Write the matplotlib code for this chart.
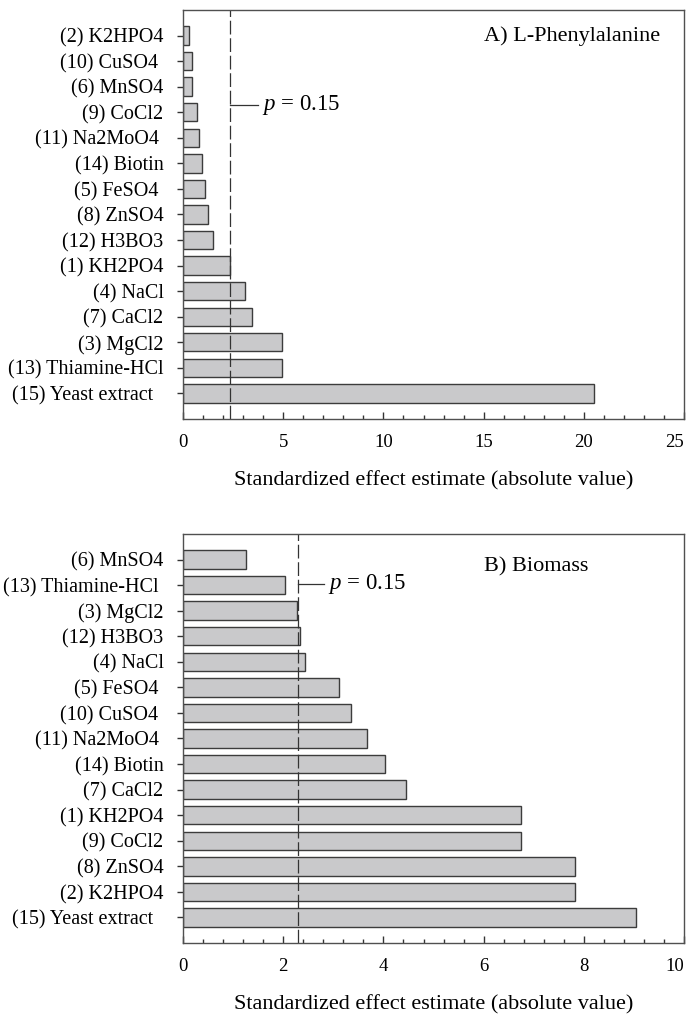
import matplotlib
matplotlib.use('Agg')
import numpy as np
import matplotlib.pyplot as plt
from matplotlib.ticker import MultipleLocator
from matplotlib.transforms import blended_transform_factory

plt.rcParams['font.family'] = ['Liberation Serif', 'DejaVu Serif']
plt.rcParams['mathtext.fontset'] = 'custom'
plt.rcParams['mathtext.rm'] = 'Liberation Serif'
plt.rcParams['mathtext.it'] = 'Liberation Serif:italic'

# panel A - L-phenylalanine (top to bottom)
phe_labels = ['(2) K2HPO4', '(10) CuSO4 ', '(6) MnSO4', '(9) CoCl2', '(11) Na2MoO4 ',
              '(14) Biotin', '(5) FeSO4 ', '(8) ZnSO4', '(12) H3BO3', '(1) KH2PO4',
              '(4) NaCl', '(7) CaCl2', '(3) MgCl2', '(13) Thiamine-HCl', '(15) Yeast extract  ']
phe_values = [0.32, 0.43, 0.43, 0.72, 0.80, 0.97, 1.12, 1.27, 1.51, 2.36,
              3.11, 3.42, 4.92, 4.96, 20.52]
phe_cutoff = 2.34

# panel B - biomass (top to bottom)
bio_labels = ['(6) MnSO4', '(13) Thiamine-HCl ', '(3) MgCl2', '(12) H3BO3', '(4) NaCl',
              '(5) FeSO4 ', '(10) CuSO4 ', '(11) Na2MoO4 ', '(14) Biotin', '(7) CaCl2',
              '(1) KH2PO4', '(9) CoCl2', '(8) ZnSO4', '(2) K2HPO4', '(15) Yeast extract  ']
bio_values = [1.26, 2.03, 2.28, 2.33, 2.44, 3.11, 3.35, 3.68, 4.04, 4.45,
              6.75, 6.75, 7.82, 7.82, 9.05]
bio_cutoff = 2.29

XLABEL = 'Standardized effect estimate (absolute value)'


def draw(ax, labels, values, cutoff, xmax, major, minor, title, title_y,
         note_y, note_line_end, note_x):
    y = np.arange(len(values))
    ax.barh(y, values, height=0.72, color='#c9c9cb', edgecolor='#3c3c3c', linewidth=1.0)
    ax.axvline(cutoff, color='#333333', lw=0.9, dashes=(11, 3))
    ax.plot([cutoff, note_line_end], [note_y, note_y], color='#333333', lw=0.9)
    ax.text(note_x, note_y, r'$p$ = 0.15', ha='left', va='center', fontsize=16.5)
    ax.text(0.601, title_y, title,
            transform=blended_transform_factory(ax.transAxes, ax.transData),
            ha='left', va='center', fontsize=16)

    ax.set_xlim(0, xmax)
    ax.set_ylim(len(values), -1)
    ax.set_yticks(y)
    ax.set_yticklabels(labels)
    ax.xaxis.set_major_locator(MultipleLocator(major))
    ax.xaxis.set_minor_locator(MultipleLocator(minor))
    ax.tick_params(axis='x', which='both', direction='in', pad=11, labelsize=13.5,
                   color='#333333', width=1.0)
    ax.tick_params(axis='x', which='major', length=5)
    ax.tick_params(axis='x', which='minor', length=3)
    ax.tick_params(axis='y', direction='out', length=4, pad=10, labelsize=14.5,
                   color='#333333', width=1.0)
    for s in ax.spines.values():
        s.set_color('#505050')
        s.set_linewidth(1.0)
    ax.set_xlabel(XLABEL, fontsize=16, labelpad=14)


fig = plt.figure(figsize=(6.87, 10.14), dpi=100)
ax_a = fig.add_axes([0.2664, 0.5868, 0.7293, 0.4034])
ax_b = fig.add_axes([0.2664, 0.0700, 0.7293, 0.4034])

draw(ax_a, phe_labels, phe_values, phe_cutoff, 25, 5, 1, 'A) L-Phenylalanine', 0.04,
     2.7, 3.72, 3.93)
draw(ax_b, bio_labels, bio_values, bio_cutoff, 10, 2, 0.4, 'B) Biomass', 0.27,
     0.95, 2.82, 2.90)

# keep the last x tick label inside the figure edge
fig.canvas.draw()
for ax in (ax_a, ax_b):
    xmax = ax.get_xlim()[1]
    for tick in ax.xaxis.get_major_ticks():
        if abs(tick.get_loc() - xmax) < 1e-6:
            tick.label1.set_horizontalalignment('right')

fig.savefig('out.png', dpi=100)
